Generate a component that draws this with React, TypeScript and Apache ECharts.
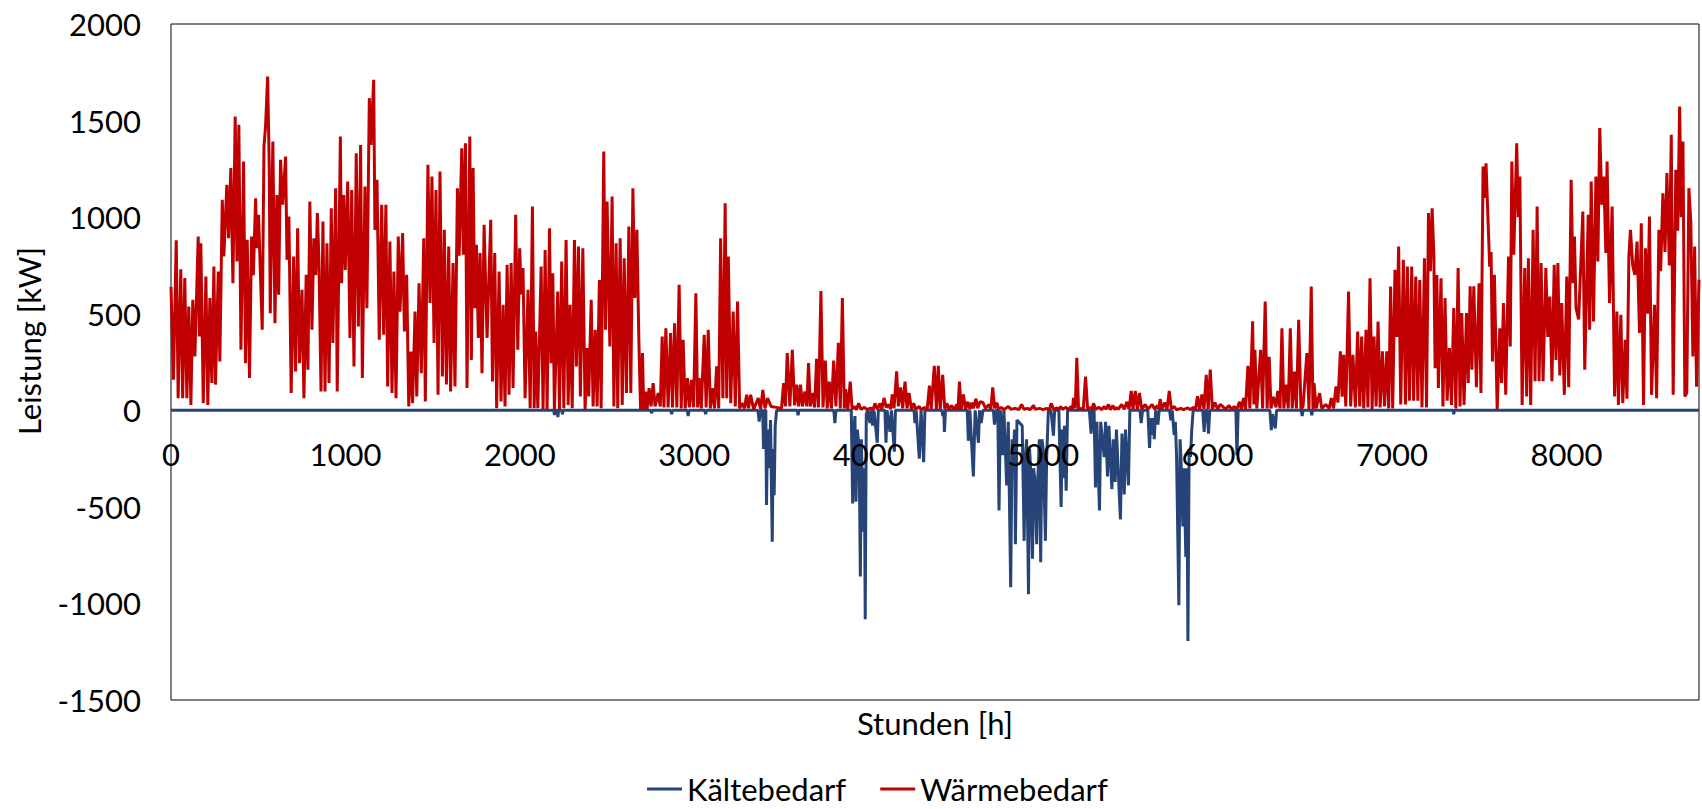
import React, { useEffect, useRef } from "react";
import * as echarts from "echarts";

// Wärmebedarf [hour, kW], by period
const heatJanFeb: number[][] = [[0,640],[14,158],[30,880],[41,63],[56,730],[67,63],[79,685],[91,63],[102,537],[114,28],[125,572],[137,279],[156,900],[163,382],[171,865],[185,37],[200,693],[211,28],[223,581],[234,141],[246,744],[255,133],[271,718],[280,253],[294,1090],[303,796],[320,1167],[330,891],[343,1254],[355,658],[368,1521],[378,770],[389,1478],[401,313],[416,1288],[427,244],[437,883],[450,167],[462,900],[472,700],[485,1098],[492,839],[502,1012],[513,693],[523,417],[533,1366],[542,1469],[554,1728],[563,1279],[569,503],[584,1391],[596,451],[607,1115],[617,598],[628,1297],[640,1064],[657,1314],[665,779],[676,1003],[689,89],[703,796],[714,201],[726,943],[737,244],[751,624],[762,63],[775,701],[785,210],[796,1081],[808,417],[819,891],[830,700],[839,1021],[848,779],[860,97],[871,977],[883,97],[894,865],[906,141]];
const heatFebMar: number[][] = [[919,1046],[928,348],[944,1150],[953,97],[971,1417],[978,658],[990,1115],[999,727],[1013,1184],[1026,374],[1036,1141],[1049,227],[1062,1331],[1074,434],[1087,1374],[1097,167],[1112,1159],[1123,529],[1137,1616],[1146,1374],[1162,1711],[1169,934],[1181,1193],[1194,365],[1208,1064],[1219,391],[1232,1064],[1242,123],[1255,874],[1267,89],[1278,718],[1290,63],[1303,900],[1313,511],[1328,917],[1338,408],[1351,701],[1363,20],[1376,304],[1385,37],[1399,511],[1409,71],[1422,658],[1435,192],[1449,891],[1458,46],[1473,1271],[1485,555],[1496,1210],[1508,348],[1519,1141],[1531,80],[1542,1236],[1556,175],[1567,934],[1579,133],[1592,848],[1603,97],[1617,762],[1628,123],[1642,1150],[1652,800],[1667,1357],[1676,805],[1688,1383],[1697,115],[1713,1417],[1722,261],[1732,1254],[1741,529],[1751,857],[1762,374],[1772,814],[1783,192],[1795,960]];
const heatMarApr: number[][] = [[1812,374],[1833,986],[1843,149],[1856,814],[1867,11],[1881,718],[1892,46],[1904,546],[1915,20],[1927,753],[1938,80],[1950,762],[1961,115],[1976,1012],[1988,313],[1999,839],[2008,600],[2018,736],[2030,63],[2047,624],[2059,11],[2072,1055],[2082,11],[2091,408],[2103,11],[2122,744],[2133,3],[2145,830],[2156,3],[2170,943],[2179,244],[2189,710],[2198,0],[2217,615],[2227,3],[2240,770],[2252,11],[2265,882],[2277,28],[2288,546],[2300,11],[2313,882],[2324,227],[2336,848],[2347,71],[2361,839],[2374,3],[2386,322],[2395,71],[2409,572],[2420,20],[2432,417],[2443,20],[2456,675],[2466,11],[2481,1340],[2491,417],[2500,1081],[2516,330],[2529,1107],[2539,20],[2552,865],[2561,11],[2575,891],[2587,28],[2598,787],[2611,89],[2625,951],[2636,89],[2648,1150],[2659,581],[2671,934],[2682,374],[2692,3],[2703,296],[2710,3],[2720,97],[2729,3]];
const heatAprMay: number[][] = [[2741,115],[2752,20],[2764,141],[2775,20],[2793,89],[2805,20],[2816,382],[2826,15],[2837,425],[2850,15],[2864,400],[2875,15],[2887,451],[2900,15],[2913,650],[2925,10],[2936,365],[2948,10],[2961,167],[2972,15],[2984,158],[2996,15],[3009,606],[3019,15],[3028,167],[3040,10],[3057,391],[3068,15],[3080,417],[3092,10],[3105,115],[3116,10],[3128,227],[3140,10],[3151,891],[3164,63],[3177,1072],[3186,63],[3195,796],[3209,37],[3223,511],[3235,20],[3248,563],[3260,10],[3273,37],[3288,10],[3300,80],[3311,10],[3323,80],[3340,5],[3367,63],[3380,5],[3393,106],[3405,10],[3420,63],[3440,20],[3470,15],[3500,10],[3512,141],[3522,20],[3533,296],[3548,20],[3562,313],[3575,25],[3587,133],[3598,20],[3609,133],[3620,20],[3634,97],[3645,20],[3655,244]];
const heatJunJul: number[][] = [[3665,20],[3676,90],[3690,15],[3701,266],[3712,15],[3726,618],[3738,15],[3751,257],[3762,10],[3774,148],[3786,10],[3799,257],[3812,20],[3826,350],[3837,10],[3849,581],[3860,10],[3868,110],[3880,5],[3894,148],[3905,5],[3920,20],[3930,3],[3942,36],[3955,5],[3975,15],[3990,3],[4010,12],[4025,3],[4036,36],[4050,5],[4065,36],[4075,5],[4088,64],[4100,15],[4115,30],[4125,5],[4135,82],[4145,10],[4160,202],[4170,20],[4183,119],[4195,10],[4208,148],[4220,10],[4231,90],[4245,5],[4258,36],[4270,5],[4290,20],[4300,3],[4320,15],[4335,3],[4348,128],[4358,5],[4376,230],[4388,5],[4399,230],[4410,5],[4424,184],[4436,5],[4448,36],[4460,5],[4475,25],[4490,3],[4505,30],[4512,5],[4520,148],[4530,5],[4543,82],[4555,5],[4568,44]];
const heatJulAug: number[][] = [[4580,5],[4590,40],[4600,10],[4615,60],[4625,10],[4638,44],[4655,40],[4670,10],[4690,30],[4700,5],[4711,119],[4722,10],[4735,40],[4745,5],[4760,15],[4775,3],[4800,20],[4815,5],[4840,10],[4860,3],[4877,30],[4890,5],[4910,10],[4925,3],[4945,25],[4955,5],[4980,10],[5000,3],[5020,10],[5035,3],[5046,36],[5060,5],[5080,12],[5090,3],[5100,20],[5110,5],[5130,15],[5145,3],[5160,20],[5168,5],[5174,64],[5184,10],[5193,272],[5203,5],[5220,10],[5230,3],[5243,174],[5255,5],[5270,15],[5280,3],[5289,36],[5300,5],[5320,15],[5335,3],[5350,20],[5360,5],[5375,30],[5385,3],[5400,25],[5410,3],[5420,15],[5430,5],[5450,30],[5465,5],[5480,44],[5492,5]];
const heatAugSep: number[][] = [[5505,100],[5515,5],[5528,100],[5540,5],[5552,90],[5565,5],[5585,30],[5600,5],[5625,30],[5640,5],[5655,25],[5663,5],[5671,58],[5680,5],[5697,40],[5710,5],[5723,100],[5735,5],[5750,20],[5765,3],[5790,10],[5805,3],[5830,12],[5845,3],[5860,15],[5873,3],[5885,73],[5897,5],[5910,82],[5922,5],[5935,184],[5946,5],[5958,211],[5970,5],[5985,40],[6000,5],[6015,30],[6030,20],[6045,5],[6065,25],[6080,5],[6095,20],[6110,5],[6126,44],[6136,5],[6149,64],[6160,5],[6174,230],[6185,10],[6201,461],[6208,30],[6214,313],[6225,10],[6247,313],[6258,10],[6273,563],[6284,10],[6296,277],[6306,10],[6320,70],[6335,15],[6345,100],[6358,10],[6369,425],[6380,10],[6394,133],[6405,10]];
const heatOctNov: number[][] = [[6417,425],[6428,10],[6440,201],[6452,10],[6465,468],[6478,5],[6490,20],[6512,296],[6524,5],[6537,641],[6547,5],[6553,141],[6565,10],[6585,89],[6597,10],[6620,30],[6640,10],[6652,63],[6665,10],[6679,123],[6690,40],[6704,305],[6714,70],[6723,287],[6735,20],[6751,615],[6763,20],[6776,287],[6790,15],[6803,408],[6815,20],[6826,382],[6838,10],[6851,417],[6862,15],[6874,684],[6886,5],[6897,382],[6909,20],[6920,460],[6932,15],[6945,305],[6957,20],[6970,305],[6981,10],[6992,641],[7004,10],[7017,727],[7027,380],[7038,848],[7050,30],[7065,779],[7077,30],[7088,744],[7100,50],[7113,744],[7124,50],[7136,693],[7148,50],[7159,675],[7172,15],[7186,787],[7198,15],[7209,1021],[7220,720],[7230,1046],[7240,800],[7247,218],[7257,700],[7266,115],[7281,684],[7292,20],[7304,581],[7316,50],[7329,322]];
const heatNovDec: number[][] = [[7341,28],[7354,529],[7366,10],[7379,736],[7390,20],[7400,503],[7413,28],[7427,503],[7437,141],[7448,642],[7458,210],[7469,642],[7484,120],[7499,658],[7510,90],[7522,1262],[7530,1100],[7539,1279],[7560,744],[7568,820],[7576,253],[7587,701],[7603,3],[7618,425],[7628,141],[7639,555],[7652,80],[7668,796],[7678,330],[7687,1288],[7698,805],[7715,1383],[7724,1000],[7733,1210],[7746,28],[7761,736],[7772,71],[7782,787],[7795,28],[7809,934],[7820,150],[7832,1055],[7843,150],[7855,762],[7866,150],[7882,736],[7893,380],[7905,589],[7917,150],[7930,753],[7940,260],[7951,762],[7962,180],[7973,555],[7988,80],[8002,693],[8013,120],[8027,1193],[8038,658],[8046,900],[8055,529],[8070,470],[8094,1029],[8105,210],[8125,1012],[8133,417],[8142,1184],[8155,460],[8169,1210],[8180,770],[8191,1461],[8203,1064],[8214,1210],[8226,814],[8233,1288],[8247,555]];
const heatDec: number[][] = [[8262,1055],[8276,71],[8289,511],[8298,28],[8312,494],[8323,37],[8337,365],[8347,60],[8358,796],[8367,934],[8380,750],[8392,701],[8405,874],[8419,400],[8429,968],[8442,28],[8453,839],[8465,500],[8476,1003],[8488,80],[8505,546],[8517,63],[8530,934],[8540,720],[8553,1124],[8565,820],[8576,1228],[8590,750],[8601,1426],[8612,80],[8627,1245],[8638,930],[8649,1573],[8658,1000],[8668,1392],[8679,71],[8690,90],[8702,1150],[8713,980],[8725,279],[8735,848],[8746,122],[8760,676]];

// Kältebedarf [hour, kW] (negative), by period
const coolSpring: number[][] = [[0,0],[2195,0],[2198,-25],[2202,0],[2215,0],[2218,-35],[2222,0],[2240,0],[2244,-20],[2248,0],[2750,0],[2756,-15],[2760,0],[2865,0],[2870,-20],[2875,0],[2960,0],[2965,-30],[2970,0],[3060,0],[3065,-20],[3070,0]];
const coolMay: number[][] = [[3365,0],[3372,-58],[3380,0],[3392,0],[3397,-200],[3403,0],[3410,0],[3414,-490],[3420,-100],[3430,-300],[3437,-50],[3447,-680],[3452,-200],[3458,-440],[3464,-80],[3472,0],[3590,0],[3595,-25],[3600,0],[3800,0],[3806,-66],[3812,0]];
const coolJune: number[][] = [[3900,0],[3908,-482],[3915,-100],[3921,-30],[3927,-473],[3935,-100],[3945,-200],[3952,-861],[3958,-150],[3963,-380],[3969,-629],[3975,-300],[3980,-1082],[3986,-20],[3995,0],[4007,-66],[4015,0],[4022,-80],[4030,0],[4049,-168],[4055,0],[4093,0],[4099,-168],[4105,0],[4122,-112],[4130,0],[4147,-214],[4153,0],[4260,0],[4265,-66],[4272,0],[4290,-251],[4300,0],[4315,-269],[4322,0],[4420,0],[4425,-30],[4430,0],[4434,-112],[4440,0]];
const coolJuly: number[][] = [[4565,0],[4571,-158],[4580,0],[4600,-343],[4610,0],[4629,-168],[4635,0],[4645,-66],[4655,0],[4715,0],[4721,-74],[4730,0],[4740,0],[4747,-519],[4755,0],[4768,-233],[4775,0],[4791,-389],[4800,-60],[4814,-916],[4822,-150],[4830,-242],[4836,-100],[4841,-694],[4850,-50],[4880,-80],[4891,-676],[4898,-250],[4905,-150],[4916,-953],[4922,-200],[4928,-300],[4939,-768],[4945,-300],[4952,-350],[4963,-694],[4970,-350],[4978,-150],[4986,-787],[4993,-150],[5000,-200],[5013,-676],[5020,-250],[5030,0],[5045,0],[5059,-131],[5066,0],[5090,0],[5103,-500],[5110,-100],[5116,-351],[5122,-80],[5132,-417],[5140,0]];
const coolAugust: number[][] = [[5265,0],[5275,-121],[5282,0],[5292,0],[5300,-399],[5308,-60],[5323,-519],[5330,-60],[5350,-242],[5358,-60],[5369,-343],[5377,-80],[5394,-408],[5402,-150],[5413,-371],[5420,-100],[5443,-565],[5452,-120],[5465,-436],[5472,-100],[5489,-389],[5497,0],[5555,0],[5562,-66],[5570,0],[5600,0],[5610,-195],[5617,-40],[5623,-127],[5630,-40],[5637,-150],[5645,0],[5658,-74],[5665,0],[5725,0],[5732,-52],[5740,0],[5751,-127],[5758,-60],[5765,-242],[5778,-1009],[5785,-150],[5790,-242],[5801,-602],[5807,-300],[5818,-759],[5824,-300],[5830,-1194],[5837,-200],[5845,-242],[5852,-100],[5860,0]];
const coolAutumn: number[][] = [[5915,0],[5923,-112],[5930,0],[5940,0],[5948,-121],[5955,0],[6105,0],[6111,-232],[6118,0],[6300,0],[6308,-103],[6315,-20],[6331,-94],[6338,0],[6480,0],[6485,-30],[6490,0],[6535,0],[6540,-25],[6545,0],[7350,0],[7354,-20],[7358,0],[8760,0]];

const yTicks = { min: -1500, max: 2000, step: 500 };
const xTicks = { min: 0, max: 8760, step: 1000 };

const FONT = "Lato";
const GRID = { left: 171, right: 3, top: 24, bottom: 109 };
const H = 809;

export default function App() {
  const ref = useRef<HTMLDivElement>(null);

  useEffect(() => {
    if (!ref.current) return;
    const chart = echarts.init(ref.current, undefined, { renderer: "svg" });
    const heat = [
      ...heatJanFeb, ...heatFebMar, ...heatMarApr, ...heatAprMay, ...heatJunJul,
      ...heatJulAug, ...heatAugSep, ...heatOctNov, ...heatNovDec, ...heatDec,
    ];
    const cool = [...coolSpring, ...coolMay, ...coolJune, ...coolJuly, ...coolAugust, ...coolAutumn];

    // place the x-axis labels along the zero line (axis crosses at 0)
    const plotH = H - GRID.top - GRID.bottom;
    const zeroFromBottom = plotH * (0 - yTicks.min) / (yTicks.max - yTicks.min);

    chart.setOption({
      animation: false,
      backgroundColor: "#fff",
      textStyle: { fontFamily: FONT },
      grid: {
        ...GRID,
        show: true,
        borderColor: "#000",
        borderWidth: 1,
        backgroundColor: "transparent",
      },
      legend: {
        left: 642,
        top: 768,
        icon: "rect",
        itemWidth: 35,
        itemHeight: 3,
        itemGap: 34,
        textStyle: { fontFamily: FONT, fontSize: 31, lineHeight: 32, color: "#000" },
        data: ["Kältebedarf", "Wärmebedarf"],
      },
      xAxis: {
        type: "value",
        min: xTicks.min,
        max: xTicks.max,
        interval: xTicks.step,
        z: 10,
        offset: -zeroFromBottom,
        axisLine: { show: false, onZero: false },
        axisTick: { show: false },
        splitLine: { show: false },
        axisLabel: {
          margin: 28,
          fontFamily: FONT,
          fontSize: 31,
          color: "#000",
          formatter: (v: number) => (v % 1000 === 0 ? String(v) : ""),
        },
      },
      yAxis: {
        type: "value",
        min: yTicks.min,
        max: yTicks.max,
        interval: yTicks.step,
        axisLine: { show: false },
        axisTick: { show: false },
        splitLine: { show: false },
        axisLabel: {
          margin: 30,
          fontFamily: FONT,
          fontSize: 31,
          color: "#000",
          formatter: (v: number) => String(v),
        },
      },
      graphic: [
        {
          type: "text",
          x: 29,
          y: 341,
          rotation: Math.PI / 2,
          style: {
            text: "Leistung [kW]",
            fontFamily: FONT,
            fontSize: 31,
            fill: "#000",
            align: "center",
            verticalAlign: "middle",
          },
        },
        {
          type: "text",
          x: 935,
          y: 723,
          style: {
            text: "Stunden [h]",
            fontFamily: FONT,
            fontSize: 31,
            fill: "#000",
            align: "center",
            verticalAlign: "middle",
          },
        },
      ],
      series: [
        {
          name: "Kältebedarf",
          type: "line",
          data: cool,
          showSymbol: false,
          symbol: "none",
          color: "#264478",
          lineStyle: { color: "#264478", width: 3 },
          z: 2,
        },
        {
          name: "Wärmebedarf",
          type: "line",
          data: heat,
          showSymbol: false,
          symbol: "none",
          color: "#C00000",
          lineStyle: { color: "#C00000", width: 3 },
          z: 3,
        },
      ],
    });
    return () => chart.dispose();
  }, []);

  return (
    <div
      ref={ref}
      style={{ position: "fixed", left: 0, top: 0, width: 1702, height: 809, background: "#fff" }}
    />
  );
}
